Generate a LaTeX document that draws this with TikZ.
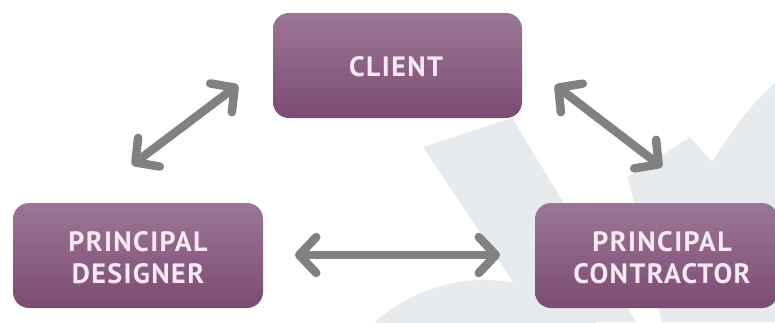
\documentclass[tikz,border=0pt]{standalone}
\usepackage{fontspec}
\setmainfont{PT Sans}
\newfontfamily\boxfont{PT Sans}[LetterSpace=5]
\usetikzlibrary{arrows.meta}
\definecolor{boxtop}{RGB}{156,118,150}
\definecolor{boxbot}{RGB}{124,75,115}
\definecolor{arrowgray}{RGB}{128,129,130}
\definecolor{wmgray}{RGB}{232,235,238}
\definecolor{txt}{RGB}{247,232,243}
\begin{document}
\begin{tikzpicture}[x=1pt,y=-1pt,
  box/.style={rounded corners=16pt, top color=boxtop, bottom color=boxbot, draw=none, inner sep=0pt},
  boxtext/.style={text=txt, font=\boxfont\fontsize{28}{32}\selectfont\bfseries, align=center, inner sep=0pt},
  dbl/.style={draw=arrowgray, line width=8.5pt, line cap=round,
    {Straight Barb[round,length=17pt,width=36pt]}-{Straight Barb[round,length=17pt,width=36pt]}}]
\useasboundingbox (0,0) rectangle (775,322);
\fill[white] (0,0) rectangle (775,322);
% watermark
\fill[wmgray] (423,147) -- (512,118) -- (636,322) -- (540,322) -- cycle;
\fill[wmgray] (628,177) -- (690,137) -- (712,162) .. controls (735,125) and (755,100) .. (775,83) -- (775,322) -- (662,322) -- cycle;
\begin{scope}
\clip (0,0) rectangle (775,322);
\fill[wmgray] (485,445) circle (165);
\end{scope}
% boxes
\node[box, minimum width=249pt, minimum height=105pt] (cl) at (397.5,65.5) {};
\node[box, minimum width=250pt, minimum height=105pt] (pd) at (138,255.5) {};
\node[box, minimum width=243pt, minimum height=105pt] (pc) at (656.5,255.5) {};
\node[boxtext] (clt) at (396,67) {CLIENT};
\node[boxtext] (pdt) at (138,258) {PRINCIPAL\\DESIGNER};
\node[boxtext] (pct) at (662,258) {PRINCIPAL\\CONTRACTOR};
% arrow ends
\coordinate (a1s) at (132,165);
\coordinate (a1e) at (238,85);
\coordinate (a2s) at (555,85);
\coordinate (a2e) at (662,167);
\coordinate (a3s) at (295,255);
\coordinate (a3e) at (500,255);
\draw[dbl] (a1s) -- (a1e);
\draw[dbl] (a2s) -- (a2e);
\draw[dbl] (a3s) -- (a3e);
\end{tikzpicture}
\end{document}
